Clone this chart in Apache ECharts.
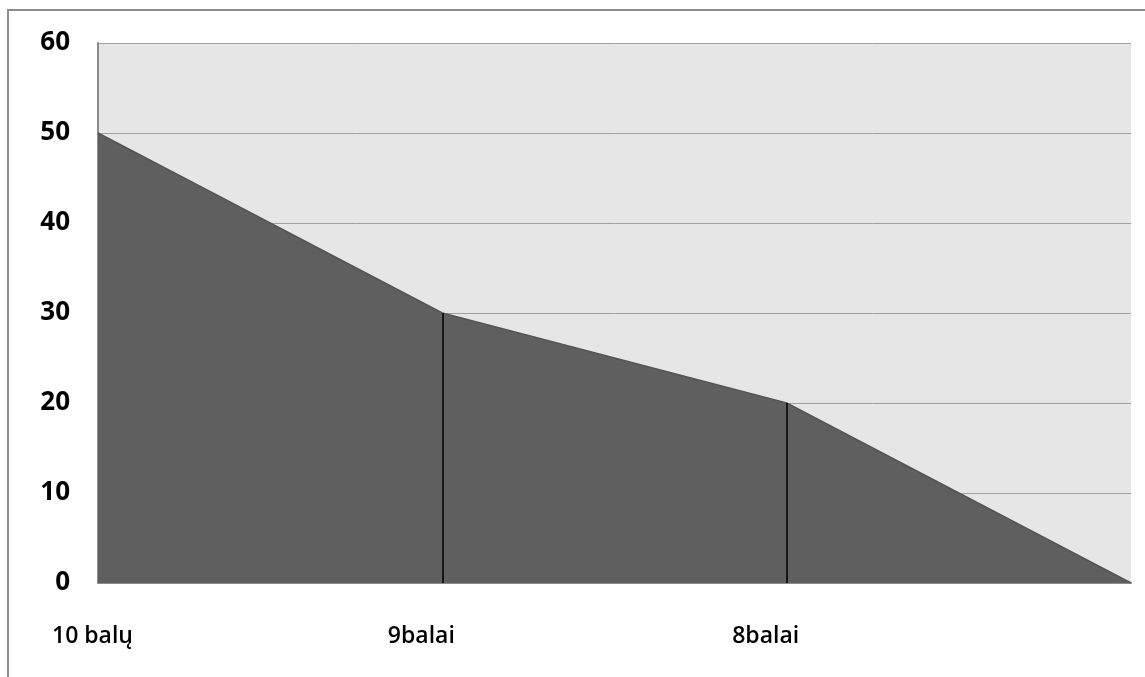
<!DOCTYPE html>
<html>
<head>
<meta charset="utf-8">
<script src="https://cdn.jsdelivr.net/npm/echarts@6/dist/echarts.min.js"></script>
<style>
  html, body { margin: 0; padding: 0; background: #fff; }
  #chart { position: absolute; left: 0; top: 0; width: 1145px; height: 677px; }
</style>
</head>
<body>
<div id="chart"></div>
<script>
const categories = ['10 balų', '9balai', '8balai', '']
const values = [50, 30, 20, 0]
const yTicks = [0, 10, 20, 30, 40, 50, 60]

// drop lines from the interior points down to the axis
const dropLines = []
for (let i = 1; i < categories.length - 1; i++) {
  dropLines.push([{coord: [categories[i], 0]}, {coord: [categories[i], values[i]]}])
}

const labelFont = {fontFamily: 'Open Sans', fontSize: 23, fontWeight: 600, color: '#000'}

const chart = echarts.init(document.getElementById('chart'))
chart.setOption({
  animation: false,
  // outer chart-area frame (only left and top edges are in view)
  graphic: [
    {type: 'rect', silent: true, shape: {x: 7, y: 9, width: 1138, height: 2}, style: {fill: '#8c8c8c'}},
    {type: 'rect', silent: true, shape: {x: 7, y: 9, width: 2, height: 668}, style: {fill: '#8c8c8c'}}
  ],
  grid: {
    left: 98, top: 43, width: 1033, height: 540,
    show: true, backgroundColor: '#e6e6e6', borderWidth: 0
  },
  xAxis: {
    type: 'category',
    data: categories,
    boundaryGap: false,
    axisLine: {lineStyle: {color: '#8c8c8c', width: 2}},
    axisTick: {show: false},
    axisLabel: {
      margin: 42,
      interval: 0,
      align: 'center',
      ...labelFont,
      formatter: (v, i) => (i === 0 ? '{first|' + v + '}' : '{other|' + v + '}'),
      rich: {
        first: {...labelFont, padding: [0, 11, 0, 0]},
        other: {...labelFont, padding: [0, 42, 0, 0]}
      }
    },
    splitLine: {show: false}
  },
  yAxis: {
    type: 'value',
    min: yTicks[0],
    max: yTicks[yTicks.length - 1],
    interval: 10,
    axisLine: {show: true, lineStyle: {color: '#8c8c8c', width: 2}},
    axisTick: {show: false},
    axisLabel: {
      margin: 28,
      color: '#000',
      fontFamily: 'Open Sans',
      fontWeight: 'bold',
      fontSize: 26
    },
    splitLine: {lineStyle: {color: '#a0a0a0', width: 1}}
  },
  series: [{
    type: 'line',
    data: values,
    symbol: 'none',
    lineStyle: {color: '#555555', width: 1.5},
    areaStyle: {color: '#5f5f5f', opacity: 1},
    markLine: {
      silent: true,
      symbol: ['none', 'none'],
      label: {show: false},
      lineStyle: {color: '#000', width: 1.5, type: 'solid'},
      data: dropLines
    }
  }]
})
</script>
</body>
</html>
